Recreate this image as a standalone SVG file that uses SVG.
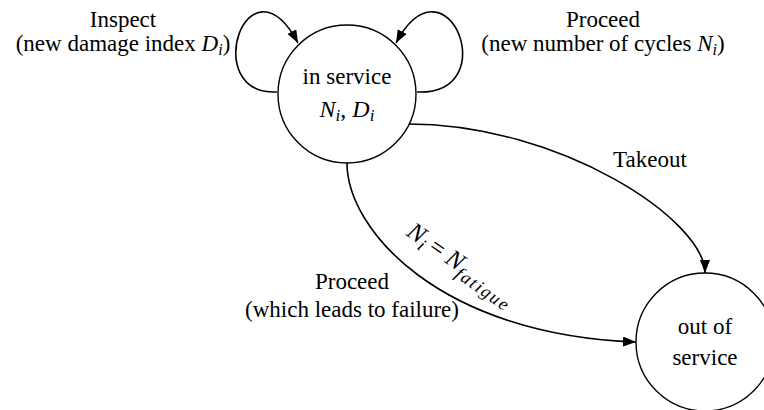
<svg xmlns="http://www.w3.org/2000/svg" width="764" height="410" viewBox="0 0 764 410">
  <style>
    .node { fill: #ffffff; stroke: #000000; stroke-width: 1.4; }
    .edge { fill: none; stroke: #000000; stroke-width: 1.6; marker-end: url(#arrow); }
    .lbl { font-family: "Liberation Serif", "Times New Roman", serif; font-size: 23px; fill: #000000; text-anchor: middle; }
    .math { font-family: "Liberation Serif", "Times New Roman", serif; font-style: italic; }
    .sub { font-size: 16px; }
  </style>
  <defs>
    <marker id="arrow" markerUnits="userSpaceOnUse" markerWidth="14" markerHeight="11" refX="13" refY="5" orient="auto">
      <path d="M0,0 L13,5 L0,10 z" fill="#000000"/>
    </marker>
  </defs>

  <!-- transitions -->
  <g id="edges">
    <!-- inspect self-loop -->
    <path class="edge" d="M277,92 C198,95 248,-50 298,43"/>
    <!-- proceed self-loop -->
    <path class="edge" d="M417,92 C506,95 446,-50 396,43"/>
    <!-- takeout -->
    <path class="edge" d="M408,124 C560,124 705,220 705,273"/>
    <!-- proceed to failure -->
    <path class="edge" d="M347,163 C347,230 440,335 636,342"/>
  </g>

  <!-- edge labels -->
  <g id="edge-labels">
    <text class="lbl" x="123" y="27">Inspect</text>
    <text class="lbl" x="123" y="51">(new damage index <tspan class="math">D</tspan><tspan class="math sub" dy="4">i</tspan><tspan dy="-4">)</tspan></text>
    <text class="lbl" x="603" y="27">Proceed</text>
    <text class="lbl" x="603" y="51">(new number of cycles <tspan class="math">N</tspan><tspan class="math sub" dy="4">i</tspan><tspan dy="-4">)</tspan></text>
    <text class="lbl" x="650" y="167">Takeout</text>
    <text class="lbl" x="352" y="289">Proceed</text>
    <text class="lbl" x="352" y="317">(which leads to failure)</text>
    <text class="lbl math" transform="translate(457,271) rotate(35)" style="font-size:25px"><tspan>N</tspan><tspan class="sub" dy="5" style="font-size:18px">i</tspan><tspan dy="-5" font-style="normal" dx="5">=</tspan><tspan dx="6">N</tspan><tspan class="sub" dy="6" style="font-size:18px" letter-spacing="1.8">fatigue</tspan></text>
  </g>

  <g id="in-service">
    <circle class="node" cx="347" cy="94" r="69"/>
    <text class="lbl" x="347" y="84">in service</text>
    <text class="lbl math" x="347" y="117" style="font-size:24px">N<tspan class="sub" dy="4" style="font-size:17px">i</tspan><tspan dy="-4" font-style="normal">, </tspan>D<tspan class="sub" dy="4" style="font-size:17px">i</tspan></text>
  </g>

  <g id="out-of-service">
    <circle class="node" cx="705" cy="342" r="69"/>
    <text class="lbl" x="705" y="334">out of</text>
    <text class="lbl" x="705" y="365">service</text>
  </g>
</svg>
